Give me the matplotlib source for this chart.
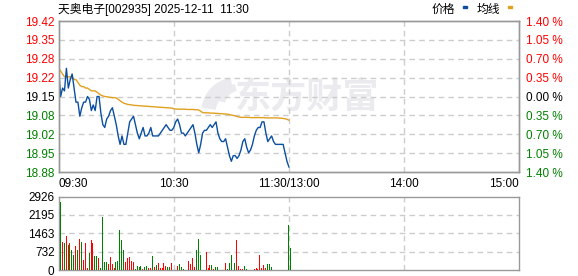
import numpy as np
import matplotlib.pyplot as plt
from matplotlib.patches import Rectangle, Wedge
from matplotlib.transforms import IdentityTransform

plt.rcParams['font.family'] = ['Liberation Sans', 'Noto Sans CJK SC', 'DejaVu Sans']

#Data: one point per minute from 09:30 to 11:30
pre_close = 19.15
price = [19.24, 19.15, 19.18, 19.17, 19.25, 19.18, 19.21, 19.23, 19.18, 19.13,
         19.13, 19.08, 19.11, 19.13, 19.13, 19.15, 19.14, 19.10, 19.12, 19.10,
         19.15, 19.15, 19.09, 19.05, 19.04, 19.07, 19.08, 19.10, 19.11, 19.08,
         19.05, 19.01, 18.98, 19.01, 18.98, 18.98, 19.02, 19.06, 19.07, 19.08,
         19.05, 19.02, 19.00, 19.02, 19.04, 19.01, 19.01, 19.02, 19.04, 19.01,
         19.01, 19.01, 19.01, 19.02, 19.03, 19.04, 19.05, 19.04, 19.03, 19.03,
         19.04, 19.06, 19.07, 19.05, 19.02, 19.02, 19.01, 19.02, 19.03, 19.04,
         19.05, 19.02, 18.98, 18.95, 18.98, 19.02, 19.03, 19.03, 19.04, 19.05,
         19.04, 19.05, 19.06, 19.02, 19.00, 18.99, 18.99, 19.00, 18.97, 18.94,
         18.92, 18.94, 18.94, 18.93, 18.94, 18.96, 18.99, 19.00, 18.97, 18.95,
         18.96, 18.98, 19.01, 19.03, 19.04, 19.04, 19.06, 19.06, 19.02, 18.99,
         19.00, 19.01, 18.99, 18.98, 18.98, 18.98, 18.98, 18.98, 18.95, 18.92,
         18.90]

avg_price = [19.25, 19.24, 19.23, 19.22, 19.22, 19.22, 19.22, 19.22, 19.21, 19.21,
             19.20, 19.19, 19.185, 19.185, 19.18, 19.18, 19.175, 19.17, 19.17, 19.17,
             19.165, 19.16, 19.155, 19.152, 19.15, 19.149, 19.148, 19.147, 19.146, 19.146,
             19.145, 19.14, 19.135, 19.13, 19.126, 19.124, 19.122, 19.121, 19.12, 19.119,
             19.118, 19.118, 19.117, 19.117, 19.116, 19.116, 19.115, 19.115, 19.114, 19.114,
             19.113, 19.113, 19.112, 19.112, 19.111, 19.111, 19.110, 19.110, 19.109, 19.109,
             19.106, 19.106, 19.105, 19.105, 19.105, 19.105, 19.105, 19.104, 19.104, 19.104,
             19.104, 19.103, 19.103, 19.102, 19.098, 19.093, 19.092, 19.092, 19.092, 19.091,
             19.091, 19.091, 19.090, 19.090, 19.089, 19.089, 19.088, 19.088, 19.087, 19.086,
             19.084, 19.083, 19.081, 19.079, 19.077, 19.076, 19.076, 19.076, 19.076, 19.076,
             19.075, 19.075, 19.075, 19.075, 19.075, 19.075, 19.075, 19.075, 19.074, 19.074,
             19.074, 19.074, 19.074, 19.074, 19.074, 19.073, 19.073, 19.072, 19.071, 19.069,
             19.066]

volume = [2727, 1134, 1066, 1350, 985, 1066, 783, 580, 945, 783,
          1228, 1107, 418, 1066, 95, 661, 1188, 1066, 540, 540,
          459, 95, 2120, 338, 338, 256, 500, 256, 95, 338,
          378, 1593, 1188, 783, 338, 459, 500, 378, 338, 54,
          175, 135, 150, 54, 135, 175, 68, 68, 540, 135,
          216, 297, 95, 95, 297, 175, 108, 108, 297, 14,
          14, 175, 256, 135, 54, 14, 14, 378, 256, 459,
          135, 783, 1228, 580, 14, 14, 702, 95, 216, 216,
          54, 135, 108, 14, 14, 14, 297, 54, 297, 580,
          14, 297, 1188, 175, 54, 54, 175, 54, 14, 14,
          14, 54, 95, 54, 580, 95, 216, 95, 256, 256,
          135, 14, 14, 14, 14, 14, 14, 14, 14, 1796,
          864]
# u = traded up (red), d = traded down (green)
vol_dir = ("dudududdud" "uduuuduudd" "udddduuuud" "dddduuuuud"
           "dddudduudu" "duuuuuddud" "uudddduuuu" "udddduuuud"
           "udduuuuddd" "uduuuudduu" "uuuuuuuudd" "duuuuuuuud"
           "d")

vol_ticks = [0, 732, 1463, 2195, 2926]
time_ticks = [0, 60, 120, 180, 240]
time_labels = ['09:30', '10:30', '11:30/13:00', '14:00', '15:00']
title = '天奥电子[002935] 2025-12-11  11:30'

blue = '#0a4fa0'
gold = '#e0a020'
up_red = '#ff0000'
down_green = '#008000'
edge = '#999999'
mark = '#ebebef'
grid_kw = dict(color='#cccccc', linestyle=(0, (4, 3)), linewidth=1)

fig = plt.figure(figsize=(5.78, 2.76), dpi=100)

#Price panel
ax = fig.add_axes([0.1016, 0.3768, 0.7964, 0.5471])
minutes = np.arange(len(price))
lo, hi = pre_close * 0.986, pre_close * 1.014
ax.set_xlim(0, 240)
ax.set_ylim(lo, hi)
levels = np.linspace(lo, hi, 9)

#Watermark (logo swoosh + name)
ax.add_artist(Wedge((236, 276 - 112), 34, 100, 172, width=13, color=mark,
                    transform=IdentityTransform(), zorder=0))
ax.add_artist(Wedge((240, 276 - 106), 22, 105, 165, width=6, color=mark,
                    transform=IdentityTransform(), zorder=0))
ax.text(0.5405, 0.50, '东方财富', transform=ax.transAxes, ha='center', va='center',
        fontsize=26, fontweight='bold', color=mark, family=['Noto Sans CJK SC'], zorder=0)

ax.plot(minutes, avg_price, color=gold, lw=1, zorder=3)
ax.plot(minutes, price, color=blue, lw=1, zorder=4)

for lv in levels[1:-1]:
    ax.axhline(lv, zorder=1, **grid_kw)
for t in time_ticks[1:-1]:
    ax.axvline(t, zorder=1, **grid_kw)

ax.set_yticks(levels)
ax.set_yticklabels(['%.2f' % v for v in levels], fontsize=8.5)
for lab, v in zip(ax.get_yticklabels(), levels):
    if round(v, 2) > pre_close:
        lab.set_color(up_red)
    elif round(v, 2) < pre_close:
        lab.set_color(down_green)
    else:
        lab.set_color('black')

ax.set_xticks(time_ticks)
ax.set_xticklabels(time_labels, fontsize=8.5)
xl = ax.get_xticklabels()
xl[0].set_ha('left')
xl[-1].set_ha('right')
ax.tick_params(length=0, pad=3)
ax.tick_params(axis='x', pad=4)

#Percent labels on the right
ax2 = ax.twinx()
ax2.set_ylim(lo, hi)
ax2.set_yticks(levels)
pct = [(v - pre_close) / pre_close * 100 for v in levels]
ax2.set_yticklabels(['%.2f %%' % abs(p) for p in pct], fontsize=8.5)
for lab, p in zip(ax2.get_yticklabels(), pct):
    if p > 0.001:
        lab.set_color(up_red)
    elif p < -0.001:
        lab.set_color(down_green)
    else:
        lab.set_color('black')
ax2.tick_params(length=0, pad=5)

for a in (ax, ax2):
    for s in a.spines.values():
        s.set_color(edge)
        s.set_linewidth(1)

#Volume panel, one pixel wide bars
vax = fig.add_axes([0.1016, 0.0217, 0.7964, 0.2663])
bar_colors = [up_red if d == 'u' else down_green for d in vol_dir]
vax.vlines(np.arange(len(volume)) + 0.6, 0, volume, colors=bar_colors,
           linewidth=0.7, antialiased=False, zorder=3)
vax.set_xlim(0, 240)
vax.set_ylim(0, vol_ticks[-1])
vax.set_yticks(vol_ticks)
vax.set_yticklabels([str(v) for v in vol_ticks], fontsize=8.5)
vax.set_xticks([])
for v in vol_ticks[1:-1]:
    vax.axhline(v, zorder=1, **grid_kw)
for t in time_ticks[1:-1]:
    vax.axvline(t, zorder=1, **grid_kw)
vax.tick_params(length=0, pad=3)
for s in vax.spines.values():
    s.set_color(edge)
    s.set_linewidth(1)

#Title and legend
fig.text(58 / 578, 1 - 9.5 / 276, title, fontsize=8.5, ha='left', va='center')
fig.text(432 / 578, 1 - 9.5 / 276, '价格', fontsize=8.5, ha='left', va='center')
fig.text(477 / 578, 1 - 9.5 / 276, '均线', fontsize=8.5, ha='left', va='center')
fig.patches.append(Rectangle((462.7 / 578, 1 - 8 / 276), 4.6 / 578, 2.2 / 276,
                             transform=fig.transFigure, color=blue))
fig.patches.append(Rectangle((507.7 / 578, 1 - 8 / 276), 4.6 / 578, 2.2 / 276,
                             transform=fig.transFigure, color=gold))

fig.savefig('out.png', dpi=100)
